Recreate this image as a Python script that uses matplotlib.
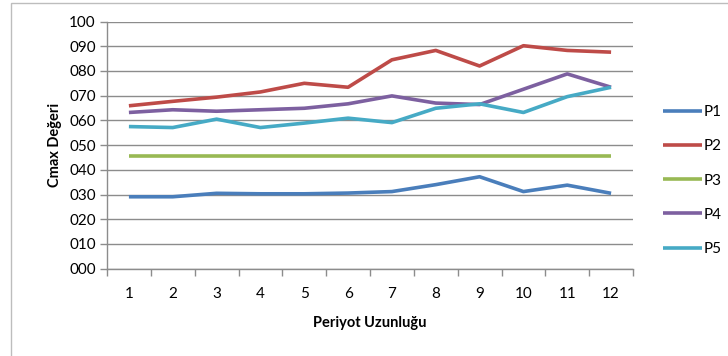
import matplotlib.pyplot as plt
from matplotlib.patches import Rectangle
from matplotlib.ticker import FixedLocator, FuncFormatter

plt.rcParams['font.family'] = ['Lato', 'DejaVu Sans']

periods = list(range(1, 13))
p1 = [29.1, 29.1, 30.5, 30.3, 30.3, 30.6, 31.2, 34.0, 37.2, 31.2, 33.8, 30.5]
p2 = [65.9, 67.7, 69.4, 71.5, 75.0, 73.4, 84.5, 88.3, 82.0, 90.2, 88.3, 87.6]
p3 = [45.6] * 12
p4 = [63.2, 64.3, 63.7, 64.3, 64.9, 66.7, 69.9, 67.0, 66.4, 72.6, 78.8, 73.4]
p5 = [57.5, 57.1, 60.5, 57.1, 58.9, 60.9, 59.1, 64.9, 66.7, 63.2, 69.6, 73.4]

series = [("P1", p1, "#4A7EBB"), ("P2", p2, "#BE4B48"), ("P3", p3, "#98B954"),
          ("P4", p4, "#7D60A0"), ("P5", p5, "#46AAC5")]

fig = plt.figure(figsize=(7.28, 3.56), dpi=100)
# chart frame
fig.patches.append(Rectangle((11 / 728, -0.1), 1.2, 1.1 - 2.5 / 356, transform=fig.transFigure,
                             fill=False, edgecolor="#bdbdbd", linewidth=1))

ax = fig.add_axes([107 / 728, 1 - 268.7 / 356, 526 / 728, 247.2 / 356])
for name, vals, col in series:
    ax.plot(periods, vals, color=col, linewidth=2.6, label=name, solid_capstyle="butt")

ax.set_xlim(0.5, 12.5)
ax.set_ylim(0, 100)
ax.set_yticks(range(0, 101, 10))
ax.yaxis.set_major_formatter(FuncFormatter(lambda v, p: f"{int(v):03d}"))
ax.grid(axis="y", color="#8c8c8c", linewidth=1)
ax.set_axisbelow(True)

ax.set_xticks(periods)
ax.xaxis.set_minor_locator(FixedLocator([i + 0.5 for i in range(0, 13)]))
ax.tick_params(axis="x", which="major", length=0, pad=13, labelsize=11)
ax.tick_params(axis="x", which="minor", length=5, color="#8c8c8c", width=1)
ax.tick_params(axis="y", length=5, color="#8c8c8c", width=1, labelsize=11, pad=3)

for s in ("top", "right"):
    ax.spines[s].set_visible(False)
for s in ("left", "bottom"):
    ax.spines[s].set_color("#8c8c8c")
    ax.spines[s].set_linewidth(1)

ax.set_xlabel("Periyot Uzunluğu", fontsize=10.5, fontweight="bold", labelpad=11)
ax.set_ylabel("Cmax Değeri", fontsize=10.5, fontweight="bold", labelpad=5)

fig.legend(loc="center left", bbox_to_anchor=(649 / 728, 1 - 180.5 / 356), frameon=False,
           fontsize=11, handlelength=2.55, handletextpad=0.1, labelspacing=1.33)

fig.savefig("out.png", dpi=100)
